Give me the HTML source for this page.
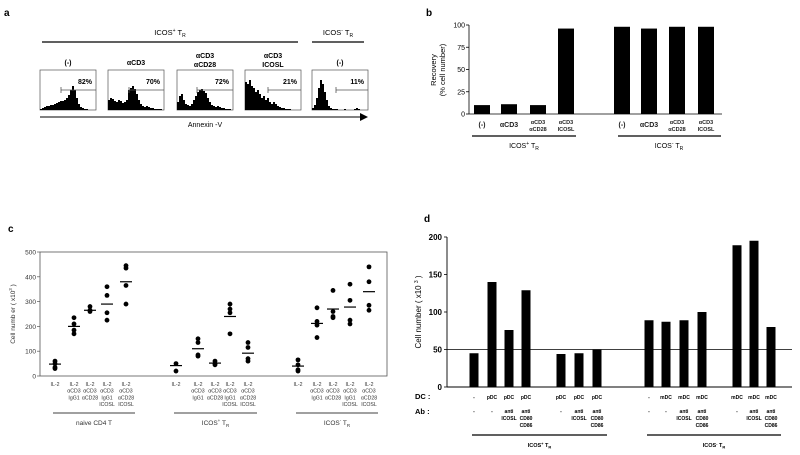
<!DOCTYPE html>
<html><head><meta charset="utf-8"><style>
body{margin:0;background:#fff}
svg{display:block;font-family:"Liberation Sans",Arial,sans-serif}
</style></head><body>
<svg width="800" height="455" viewBox="0 0 800 455">
<g id="pa">
<text x="4" y="16" font-size="10" font-weight="bold">a</text>
<line x1="42" y1="42" x2="298" y2="42" stroke="#000" stroke-width="1.2"/>
<text x="170" y="35" font-size="7.5" text-anchor="middle">ICOS<tspan font-size="5" dy="-3">+</tspan><tspan dy="3"> T</tspan><tspan font-size="5" dy="2">R</tspan></text>
<line x1="312" y1="42" x2="364" y2="42" stroke="#000" stroke-width="1.2"/>
<text x="338" y="35" font-size="7.5" text-anchor="middle">ICOS<tspan font-size="5" dy="-3">-</tspan><tspan dy="3"> T</tspan><tspan font-size="5" dy="2">R</tspan></text>
<line x1="40" y1="117" x2="362" y2="117" stroke="#000" stroke-width="1"/>
<polygon points="360,113 368,117 360,121" fill="#000"/>
<text x="205" y="127" font-size="7" text-anchor="middle">Annexin -V</text>
</g>
<g id="pb">
<text x="426" y="16" font-size="10" font-weight="bold">b</text>
</g>
<g id="pc">
<text x="8" y="232" font-size="10" font-weight="bold">c</text>
</g>
<g id="pd">
<text x="424" y="222" font-size="10" font-weight="bold">d</text>
</g>
</svg>
<script>
const NS="http://www.w3.org/2000/svg";
function mk(parent,tag,attrs,text){const e=document.createElementNS(NS,tag);for(const k in attrs)e.setAttribute(k,attrs[k]);if(text!==undefined)e.textContent=text;parent.appendChild(e);return e;}

// ---- Panel a data ----
const aConditions=[["(-)"],["αCD3"],["αCD3","αCD28"],["αCD3","ICOSL"],["(-)"]];
const aPercents=["82%","70%","72%","21%","11%"];
const aHist0=[1,2,3,4,4,5,5,6,7,8,9,9,10,12,15,20,24,20,12,6,3,2,1,1,0,0,0,0];
const aHist1=[10,12,11,9,8,10,9,7,8,10,20,22,24,21,16,10,6,4,3,4,3,2,2,1,1,1,1,0];
const aHist2=[8,14,16,10,6,5,4,6,10,14,18,20,21,19,17,12,8,5,4,3,4,3,2,2,1,1,1,0];
const aHist3=[28,26,30,24,22,18,20,16,12,14,10,12,8,6,8,6,4,3,2,2,1,1,1,0,0,0,0,0];
const aHist4=[2,5,12,22,30,26,18,10,4,2,1,1,1,0,0,0,1,0,0,0,0,1,2,1,0,0,0,0];
const aHists=[aHist0,aHist1,aHist2,aHist3,aHist4];
const aBoxX=[40,108,177,245,312];
const aGateX=[61,129,197,268,336];
const pa=document.getElementById('pa');
aBoxX.forEach((bx,i)=>{
  const g=mk(pa,'g',{});
  
  
  const r=mk(g,'rect',{x:bx,y:70,width:56,height:40,fill:'none',stroke:'#555','stroke-width':0.7});
  
  
  const h=aHists[i];const w=56/h.length;let d='M'+bx+',110';
  h.forEach((v,j)=>{const y=110-v;d+=' L'+(bx+j*w)+','+y+' L'+(bx+(j+1)*w)+','+y;});
  d+=' L'+(bx+56)+',110 Z';
  const p=mk(g,'path',{d:d,fill:'#000'});
  
  
  const gl=mk(g,'path',{d:'M'+aGateX[i]+',87 L'+aGateX[i]+',93 M'+aGateX[i]+',90 L'+(bx+56)+',90',stroke:'#555','stroke-width':0.8,fill:'none'});
  
  
  const t=mk(g,'text',{x:bx+52,y:84,'font-size':7,'font-weight':'bold','text-anchor':'end'},aPercents[i]);
  
  
  const c=aConditions[i];
  c.forEach((s,k)=>{const tt=mk(g,'text',{x:bx+28,y:(c.length===1?65:58)+k*9,'font-size':7,'font-weight':'bold','text-anchor':'middle'},s);
    
    });
});

// ---- Panel b data ----
const bCats=[["(-)"],["αCD3"],["αCD3","αCD28"],["αCD3","ICOSL"],["(-)"],["αCD3"],["αCD3","αCD28"],["αCD3","ICOSL"]];
const bValues=[10,11,10,96,98,96,98,98];
const bTicks=[0,25,50,75,100];
const pb=document.getElementById('pb');
const bX0=469,bY0=114,bY100=25;
const bCenters=[482,509,538,566,622,649,677,706];
function by(v){return bY0-(bY0-bY100)*v/100;}
mk(pb,'line',{x1:bX0,y1:by(100),x2:bX0,y2:bY0,stroke:'#000','stroke-width':0.8});
mk(pb,'line',{x1:bX0,y1:bY0,x2:722,y2:bY0,stroke:'#000','stroke-width':0.8});
bTicks.forEach(t=>{const l=mk(pb,'line',{x1:bX0-3,y1:by(t),x2:bX0,y2:by(t),stroke:'#000','stroke-width':0.8});
  
  
  const tx=mk(pb,'text',{x:bX0-4,y:by(t)+2.5,'font-size':7,'text-anchor':'end'},t);
  
  });
bValues.forEach((v,i)=>{const r=mk(pb,'rect',{x:bCenters[i]-8,y:by(v),width:16,height:bY0-by(v),fill:'#000'});
  
  
  const c=bCats[i];c.forEach((s,k)=>{const t=mk(pb,'text',{x:bCenters[i],y:c.length===1?127:124+k*7,'font-size':c.length===1?7:5.5,'font-weight':'bold','text-anchor':'middle',fill:'#222'},s);
    
    });});
const byl=mk(pb,'text',{x:0,y:0,'font-size':7.5,'text-anchor':'middle',transform:'translate(436,70) rotate(-90)'});


mk(byl,'tspan',{x:0,dy:0},'Recovery');mk(byl,'tspan',{x:0,dy:9},'(% cell number)');
[[472,576,524,'+'],[618,721,669,'-']].forEach(([a,b,c,s])=>{mk(pb,'line',{x1:a,y1:136,x2:b,y2:136,stroke:'#000','stroke-width':1.2});
  const t=mk(pb,'text',{x:c,y:148,'font-size':7,'text-anchor':'middle'});
  
  
  t.innerHTML='ICOS<tspan font-size="5" dy="-3">'+s+'</tspan><tspan dy="3"> T</tspan><tspan font-size="5" dy="2">R</tspan>';});

// ---- Panel c data ----
const cCats=[["IL-2"],["IL-2","αCD3","IgG1"],["IL-2","αCD3","αCD28"],["IL-2","αCD3","IgG1","ICOSL"],["IL-2","αCD3","αCD28","ICOSL"]];
const cGroups=["naive CD4 T","ICOS+ TR","ICOS- TR"];
const cPoints=[
 [[60,50,35,30],[235,210,185,170],[280,265,260],[360,325,255,225],[445,435,365,290]],
 [[50,20],[150,135,85,80],[60,50,45],[290,270,255,170],[135,115,70,60]],
 [[65,45,25,20],[275,220,205,155],[345,260,240,235],[370,305,225,210],[440,380,285,265]]];
const cMeans=[[48,200,265,290,380],[42,110,52,240,92],[40,212,270,278,340]];
const cTicks=[0,100,200,300,400,500];
const cX=[[55,74,90,107,126],[176,198,215,230,248],[298,317,333,350,369]];
const pc=document.getElementById('pc');
function cy(v){return 376-124*v/500;}
const cf=mk(pc,'rect',{x:40,y:252,width:347,height:124,fill:'none',stroke:'#555','stroke-width':0.8});


cTicks.forEach(t=>{mk(pc,'line',{x1:37,y1:cy(t),x2:40,y2:cy(t),stroke:'#555','stroke-width':0.7});
  const tx=mk(pc,'text',{x:36,y:cy(t)+2.5,'font-size':6.5,'text-anchor':'end',fill:'#333'},t);
  
  });
const cyl=mk(pc,'text',{x:0,y:0,'font-size':6.5,'text-anchor':'middle',fill:'#333',transform:'translate(15,314) rotate(-90)'});


cyl.innerHTML='Cell numb er ( x10<tspan font-size="4.5" dy="-3">3</tspan><tspan dy="3"> )</tspan>';
cPoints.forEach((grp,gi)=>{grp.forEach((pts,ci)=>{const x=cX[gi][ci];
  pts.forEach(v=>{const d=mk(pc,'circle',{cx:x,cy:cy(v),r:2.4,fill:'#000'});
    
    });
  const m=mk(pc,'line',{x1:x-6,y1:cy(cMeans[gi][ci]),x2:x+6,y2:cy(cMeans[gi][ci]),stroke:'#000','stroke-width':1.2});
  
  
  cCats[ci].forEach((s,k)=>{const t=mk(pc,'text',{x:x,y:386+k*6.7,'font-size':5.2,'text-anchor':'middle',fill:'#333'},s);
    
    });});
  const a=cX[gi][0]-2,b=cX[gi][4]+9;
  mk(pc,'line',{x1:a,y1:413,x2:b,y2:413,stroke:'#000','stroke-width':0.8});
  const lbl=cGroups[gi];const t=mk(pc,'text',{x:(a+b)/2,y:425,'font-size':6.5,'text-anchor':'middle',fill:'#333'});
  
  
  if(gi===0)t.textContent=lbl;else t.innerHTML='ICOS<tspan font-size="4.5" dy="-3">'+(gi===1?'+':'-')+'</tspan><tspan dy="3"> T</tspan><tspan font-size="4.5" dy="2">R</tspan>';});

// ---- Panel d data ----
const dDC=["-","pDC","pDC","pDC","pDC","pDC","pDC","-","mDC","mDC","mDC","mDC","mDC","mDC"];
const dAb=[["-"],["-"],["anti","ICOSL"],["anti","CD80","CD86"],["-"],["anti","ICOSL"],["anti","CD80","CD86"],["-"],["-"],["anti","ICOSL"],["anti","CD80","CD86"],["-"],["anti","ICOSL"],["anti","CD80","CD86"]];
const dValues=[45,140,76,129,44,45,50,89,87,89,100,189,195,80];
const dTicks=[0,50,100,150,200];
const dRef=50;
const dX=[474,492,509,526,561,579,597,649,666,684,702,737,754,771];
const pd=document.getElementById('pd');
function dy(v){return 387-150*v/200;}
mk(pd,'line',{x1:447,y1:dy(200),x2:447,y2:387,stroke:'#000','stroke-width':0.9});
mk(pd,'line',{x1:447,y1:387,x2:792,y2:387,stroke:'#000','stroke-width':0.9});
const rl=mk(pd,'line',{x1:447,y1:dy(dRef),x2:792,y2:dy(dRef),stroke:'#000','stroke-width':0.8});


dTicks.forEach(t=>{mk(pd,'line',{x1:444,y1:dy(t),x2:447,y2:dy(t),stroke:'#000','stroke-width':0.8});
  const tx=mk(pd,'text',{x:442,y:dy(t)+3,'font-size':8,'font-weight':'bold','text-anchor':'end'},t);
  
  });
const dyl=mk(pd,'text',{x:0,y:0,'font-size':8,'text-anchor':'middle',transform:'translate(421,312) rotate(-90)'});


dyl.innerHTML='Cell number ( x10 <tspan font-size="5" dy="-3">3</tspan><tspan dy="3"> )</tspan>';
dValues.forEach((v,i)=>{const r=mk(pd,'rect',{x:dX[i]-4.5,y:dy(v),width:9,height:387-dy(v),fill:'#000'});
  
  
  const t=mk(pd,'text',{x:dX[i],y:399,'font-size':5,'font-weight':'bold','text-anchor':'middle'},dDC[i]);
  
  
  dAb[i].forEach((s,k)=>{const tt=mk(pd,'text',{x:dX[i],y:413+k*7,'font-size':5,'font-weight':'bold','text-anchor':'middle'},s);
    
    });});
[["DC :",399],["Ab :",414]].forEach(([s,y])=>{const t=mk(pd,'text',{x:415,y:y,'font-size':7.5,'font-weight':'bold'},s);
  
  });
[[472,607,'+'],[647,781,'-']].forEach(([a,b,s])=>{mk(pd,'line',{x1:a,y1:435,x2:b,y2:435,stroke:'#000','stroke-width':1.2});
  const t=mk(pd,'text',{x:(a+b)/2,y:447,'font-size':5.5,'font-weight':'bold','text-anchor':'middle'});
  
  
  t.innerHTML='ICOS<tspan font-size="4" dy="-2">'+s+'</tspan><tspan dy="2"> T</tspan><tspan font-size="4" dy="1.5">R</tspan>';});
</script>
</body></html>
